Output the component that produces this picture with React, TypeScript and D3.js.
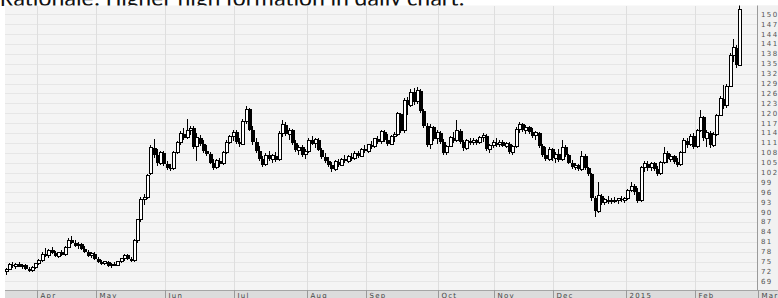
import React, { useEffect, useRef } from 'react';
import * as d3 from 'd3';

// daily candles, [open, high, low, close], one array per month
const mar14 = [
  [72.0, 73.0, 71.0, 72.5], [72.5, 74.5, 72.3, 74.0], [74.0, 74.8, 73.0, 73.5], [73.5, 74.5, 72.8, 74.2],
  [74.2, 75.0, 73.2, 73.4], [73.4, 74.2, 72.6, 73.8], [73.8, 74.4, 72.5, 72.8], [72.8, 73.4, 71.8, 72.2],
  [72.2, 73.5, 71.9, 73.2], [73.2, 74.6, 72.8, 74.3],
];
const apr14 = [
  [74.3, 75.8, 73.8, 75.4], [75.4, 77.8, 75.0, 77.2], [77.2, 79.2, 76.5, 76.8], [76.8, 78.8, 76.2, 78.4],
  [78.4, 79.5, 77.2, 77.6], [77.6, 78.2, 76.3, 76.6], [76.6, 78.0, 76.0, 77.8], [77.8, 78.6, 76.6, 77.0],
  [77.0, 79.6, 76.8, 79.3], [79.3, 82.0, 79.0, 81.4], [81.4, 82.6, 80.2, 80.6], [80.6, 81.5, 79.4, 79.8],
  [79.8, 80.8, 78.8, 80.2], [80.2, 80.6, 78.4, 78.7], [78.7, 79.6, 77.6, 78.0], [78.0, 78.4, 76.4, 76.8],
  [76.8, 77.9, 76.2, 77.4], [77.4, 77.8, 75.6, 75.9],
];
const may14 = [
  [75.9, 76.4, 74.6, 75.0], [75.0, 75.6, 74.0, 74.4], [74.4, 75.3, 73.8, 74.9], [74.9, 75.2, 73.4, 73.7],
  [73.7, 74.6, 73.1, 74.2], [74.2, 75.0, 73.5, 73.9], [73.9, 75.2, 73.6, 75.0], [75.0, 76.2, 74.6, 75.8],
  [75.8, 77.4, 75.3, 76.9], [76.9, 77.3, 75.4, 75.7], [75.7, 76.4, 74.8, 75.2], [75.2, 81.8, 75.0, 81.5],
  [81.5, 88.0, 80.5, 87.6], [87.6, 94.5, 87.0, 93.9], [93.9, 95.5, 92.2, 94.4], [94.4, 101.6, 94.0, 101.2],
  [101.8, 110.5, 101.2, 109.5], [109.5, 112.2, 106.5, 107.2], [107.2, 109.0, 104.0, 104.8], [104.8, 108.5, 104.2, 108.0],
  [108.0, 108.5, 104.0, 104.6],
];
const jun14 = [
  [104.6, 105.4, 102.8, 103.5], [103.5, 104.6, 102.5, 103.2], [103.2, 108.5, 102.8, 108.0], [108.0, 111.5, 107.6, 111.0],
  [111.0, 114.5, 110.5, 113.8], [113.8, 115.5, 112.0, 112.6], [112.6, 118.3, 112.2, 114.8], [114.8, 116.0, 113.5, 115.5],
  [115.5, 116.0, 109.0, 109.8], [109.8, 114.0, 105.5, 112.5], [112.5, 113.5, 110.0, 110.6], [110.6, 111.8, 108.0, 108.6],
  [108.6, 110.4, 107.0, 107.5], [107.5, 108.2, 104.5, 105.0], [105.0, 106.0, 102.8, 103.4], [103.4, 106.2, 103.0, 105.6],
  [105.6, 106.5, 103.8, 104.6], [104.6, 108.4, 104.2, 108.0], [108.0, 111.8, 107.5, 111.2], [111.2, 113.4, 110.6, 112.8],
  [112.8, 115.0, 111.5, 114.2],
];
const jul14 = [
  [114.2, 115.0, 110.8, 111.4], [111.4, 112.5, 109.8, 110.6], [110.6, 118.2, 110.2, 117.6], [117.6, 122.2, 116.8, 121.2],
  [121.2, 121.6, 114.5, 115.0], [115.0, 116.0, 110.5, 111.2], [111.2, 112.5, 108.0, 108.6], [108.6, 110.0, 105.5, 106.2],
  [106.2, 107.0, 103.6, 104.4], [104.4, 107.8, 104.0, 107.2], [107.2, 108.4, 105.5, 106.0], [106.0, 107.6, 105.0, 107.1],
  [107.1, 108.2, 105.3, 105.8], [105.8, 114.5, 105.5, 113.8], [113.8, 118.0, 112.8, 116.5], [116.5, 117.4, 113.0, 113.6],
  [113.6, 115.5, 111.8, 114.8], [114.8, 115.2, 110.5, 111.0], [111.0, 112.0, 108.2, 108.8], [108.8, 110.2, 107.2, 109.6],
  [109.6, 110.4, 106.8, 107.4], [107.4, 109.0, 106.2, 108.5],
];
const aug14 = [
  [108.5, 112.5, 108.0, 111.8], [111.8, 113.0, 110.2, 110.8], [110.8, 112.6, 109.5, 112.0], [112.0, 112.4, 108.4, 108.9],
  [108.9, 109.5, 106.2, 106.8], [106.8, 107.8, 105.0, 105.5], [105.5, 106.6, 103.8, 104.4], [104.4, 105.2, 102.2, 103.0],
  [103.0, 105.8, 102.6, 105.2], [105.2, 106.0, 103.6, 104.2], [104.2, 106.4, 103.9, 106.0], [106.0, 107.2, 104.8, 105.4],
  [105.4, 107.2, 105.0, 106.8], [106.8, 107.8, 105.5, 106.2], [106.2, 108.4, 105.8, 107.8], [107.8, 108.6, 106.5, 107.0],
  [107.0, 109.4, 106.6, 109.0], [109.0, 110.2, 107.8, 108.4],
];
const sep14 = [
  [108.4, 110.8, 108.0, 110.4], [110.4, 111.5, 109.2, 109.8], [109.8, 112.6, 109.4, 112.2], [112.2, 113.2, 110.8, 111.4],
  [111.4, 115.0, 110.8, 114.4], [114.4, 115.0, 111.2, 112.0], [112.0, 113.6, 110.0, 110.6], [110.6, 113.4, 110.2, 112.8],
  [112.8, 114.2, 111.2, 113.6], [113.6, 120.4, 113.2, 119.8], [119.8, 120.2, 114.0, 114.6], [114.6, 124.6, 114.0, 124.0],
  [124.0, 124.8, 119.5, 122.4], [122.4, 127.2, 121.8, 126.4], [126.4, 127.5, 122.6, 123.4], [123.4, 128.0, 122.8, 126.8],
  [126.8, 127.4, 120.0, 120.8], [120.8, 121.4, 115.4, 116.0], [116.0, 117.0, 109.6, 110.4], [110.4, 116.6, 109.2, 115.8],
  [115.8, 116.2, 111.6, 112.2], [112.2, 114.8, 110.8, 114.0],
];
const oct14 = [
  [114.0, 114.5, 110.6, 111.2], [111.2, 112.2, 107.2, 108.0], [108.0, 110.5, 107.4, 110.0], [110.0, 113.2, 109.6, 112.6],
  [112.6, 114.2, 111.0, 111.6], [111.6, 118.0, 111.2, 114.6], [114.6, 115.2, 110.8, 111.4], [111.4, 112.0, 108.4, 109.4],
  [109.4, 112.2, 108.8, 111.6], [111.6, 112.6, 110.2, 111.0], [111.0, 112.4, 110.4, 111.8], [111.8, 112.2, 110.4, 111.0],
  [111.0, 113.2, 110.6, 112.6], [112.6, 114.0, 111.4, 113.2], [113.2, 113.6, 108.4, 109.0], [109.0, 110.8, 108.0, 110.2],
  [110.2, 111.8, 109.4, 111.0],
];
const nov14 = [
  [111.0, 112.4, 109.8, 110.4], [110.4, 111.8, 109.6, 111.2], [111.2, 111.8, 109.6, 110.0], [110.0, 111.4, 109.4, 110.8],
  [110.8, 111.2, 107.6, 108.2], [108.2, 110.4, 107.4, 109.8], [109.8, 115.8, 109.4, 115.2], [115.2, 117.4, 114.0, 116.6],
  [116.6, 117.0, 114.2, 114.8], [114.8, 116.4, 113.6, 115.8], [115.8, 116.2, 113.6, 114.2], [114.2, 115.6, 112.6, 113.2],
  [113.2, 114.6, 111.8, 114.0], [114.0, 114.4, 109.4, 110.0], [110.0, 110.6, 106.8, 107.4], [107.4, 109.8, 105.4, 106.0],
  [106.0, 109.6, 105.6, 109.0], [109.0, 109.4, 105.4, 106.4],
];
const dec14 = [
  [106.4, 108.2, 105.0, 107.6], [107.6, 109.0, 105.2, 105.8], [105.8, 112.0, 105.4, 109.6], [109.6, 110.4, 106.6, 107.2],
  [107.2, 107.6, 104.6, 105.0], [105.0, 105.8, 103.0, 103.6], [103.6, 104.8, 102.8, 104.2], [104.2, 104.6, 102.4, 103.0],
  [103.0, 108.4, 102.6, 107.0], [107.0, 107.6, 102.8, 103.4], [103.4, 103.8, 101.0, 101.6], [101.6, 101.8, 93.4, 94.2],
  [94.2, 95.0, 88.6, 90.2], [90.2, 99.0, 89.8, 95.0], [95.0, 95.6, 92.2, 92.8], [92.8, 94.4, 92.0, 93.8],
  [93.8, 94.8, 92.6, 93.2], [93.2, 94.2, 92.4, 93.6], [93.6, 94.6, 92.8, 93.4], [93.4, 94.4, 92.6, 94.0],
  [94.0, 94.8, 93.0, 93.6], [93.6, 94.6, 92.8, 94.2],
];
const jan15 = [
  [94.2, 97.0, 93.6, 96.6], [96.6, 99.0, 96.0, 97.8], [97.8, 98.6, 95.2, 96.0], [96.0, 97.2, 92.8, 93.4],
  [93.4, 104.0, 93.0, 103.6], [103.6, 105.4, 102.2, 104.6], [104.6, 105.6, 102.6, 103.4], [103.4, 105.2, 102.4, 104.8],
  [104.8, 105.2, 102.4, 103.0], [103.0, 104.0, 100.8, 101.6], [101.6, 105.6, 101.2, 105.0], [105.0, 109.6, 104.6, 107.8],
  [107.8, 108.4, 105.0, 106.0], [106.0, 107.6, 105.2, 107.0], [107.0, 107.4, 104.6, 105.2], [105.2, 106.4, 103.8, 104.4],
  [104.4, 108.6, 104.0, 108.2], [108.2, 112.4, 108.0, 111.6], [111.6, 112.6, 109.4, 110.4], [110.4, 113.6, 110.0, 113.0],
  [113.0, 114.0, 109.2, 109.8],
];
const feb15 = [
  [109.8, 115.2, 109.4, 114.6], [114.6, 121.0, 114.2, 118.8], [118.8, 119.2, 111.6, 112.4], [112.4, 114.8, 109.8, 114.0],
  [114.0, 114.6, 109.4, 110.2], [110.2, 114.4, 109.6, 113.6], [113.6, 119.8, 113.2, 119.4], [119.4, 125.2, 119.0, 124.4],
  [124.4, 128.6, 121.4, 122.2], [122.2, 128.8, 121.6, 128.2], [128.2, 138.4, 127.8, 137.6], [137.6, 142.4, 135.4, 139.8],
  [139.8, 140.6, 133.6, 134.6], [134.6, 156.0, 134.2, 151.6],
];

const monthBars = [mar14, apr14, may14, jun14, jul14, aug14, sep14, oct14, nov14, dec14, jan15, feb15];
// trading sessions per month on the time axis (Mar 2014 starts on the 18th)
const sessions = [10, 18, 21, 21, 22, 18, 22, 17, 18, 22, 21, 19];
const monthLabels = ['', 'Apr', 'May', 'Jun', 'Jul', 'Aug', 'Sep', 'Oct', 'Nov', 'Dec', '2015', 'Feb', 'Mar'];
const priceTicks = d3.range(69, 151, 3);

const title = 'Rationale: Higher high formation in daily chart.';

const W = 778;
const H = 298;

const App = () => {
  const ref = useRef<SVGSVGElement>(null);

  useEffect(() => {
    const svg = d3.select(ref.current);
    svg.selectAll('*').remove();

    const left = 5;
    const top = 5.5;
    const plotRight = 757;
    const plotBottom = 290;

    const candles = monthBars.flat().map((d, i) => ({ i, o: d[0], h: d[1], l: d[2], c: d[3] }));
    const starts = d3.cumsum([0, ...sessions]);
    const total = starts[starts.length - 1];

    const x = d3.scaleLinear().domain([0, total]).range([5.5, 5.5 + total * 3.291]);
    const y = d3.scaleLinear().domain([69, 150]).range([281.3, 14.3]);

    // heading, mostly hidden behind the chart
    svg
      .append('text')
      .attr('x', 0)
      .attr('y', 6)
      .attr('font-family', 'Calibri, Carlito, Lato, sans-serif')
      .attr('font-size', 24.5)
      .attr('fill', '#111')
      .text(title);

    svg
      .append('rect')
      .attr('x', left)
      .attr('y', top)
      .attr('width', W - left)
      .attr('height', H - top)
      .attr('fill', '#f4f4f4');

    svg.append('clipPath').attr('id', 'plot-clip')
      .append('rect')
      .attr('x', left)
      .attr('y', top)
      .attr('width', plotRight - left)
      .attr('height', plotBottom - top);

    const grid = svg.append('g').attr('shape-rendering', 'crispEdges');
    grid
      .selectAll('line.h')
      .data(priceTicks)
      .join('line')
      .attr('class', 'h')
      .attr('x1', left)
      .attr('x2', plotRight)
      .attr('y1', (d) => Math.round(y(d)) + 0.5)
      .attr('y2', (d) => Math.round(y(d)) + 0.5)
      .attr('stroke', '#e6e6e6');

    const monthTicks = monthLabels
      .map((label, k) => ({ label, pos: Math.round(x(starts[k]) - 1.6) + 0.5 }))
      .filter((d) => d.label);

    grid
      .selectAll('line.v')
      .data(monthTicks)
      .join('line')
      .attr('class', 'v')
      .attr('x1', (d) => d.pos)
      .attr('x2', (d) => d.pos)
      .attr('y1', top)
      .attr('y2', plotBottom)
      .attr('stroke', '#dedede');

    // candles
    const g = svg.append('g').attr('clip-path', 'url(#plot-clip)').attr('shape-rendering', 'crispEdges');
    const cx = (d) => Math.round(x(d.i)) + 0.5;

    g.selectAll('line.wick')
      .data(candles)
      .join('line')
      .attr('class', 'wick')
      .attr('x1', cx)
      .attr('x2', cx)
      .attr('y1', (d) => y(d.h))
      .attr('y2', (d) => y(d.l))
      .attr('stroke', '#000');

    g.selectAll('rect.down')
      .data(candles.filter((d) => d.c < d.o))
      .join('rect')
      .attr('class', 'down')
      .attr('x', (d) => cx(d) - 1.5)
      .attr('width', 4)
      .attr('y', (d) => y(d.o))
      .attr('height', (d) => Math.max(1.5, y(d.c) - y(d.o)))
      .attr('fill', '#000');

    g.selectAll('rect.up')
      .data(candles.filter((d) => d.c >= d.o))
      .join('rect')
      .attr('class', 'up')
      .attr('x', (d) => cx(d) - 1)
      .attr('width', 3)
      .attr('y', (d) => y(d.c))
      .attr('height', (d) => Math.max(1, y(d.o) - y(d.c)))
      .attr('fill', '#fff')
      .attr('stroke', '#000');

    // right price axis
    svg
      .append('rect')
      .attr('x', plotRight)
      .attr('y', top)
      .attr('width', W - plotRight)
      .attr('height', plotBottom - top)
      .attr('fill', '#f1f1f1');
    svg
      .append('line')
      .attr('x1', plotRight + 0.5)
      .attr('x2', plotRight + 0.5)
      .attr('y1', top)
      .attr('y2', H)
      .attr('stroke', '#9a9a9a');

    svg
      .append('g')
      .selectAll('text')
      .data(priceTicks)
      .join('text')
      .attr('x', plotRight + 4)
      .attr('y', (d) => y(d))
      .attr('dy', '0.35em')
      .attr('font-family', 'DejaVu Sans, sans-serif')
      .attr('font-size', 7)
      .attr('letter-spacing', 1.4)
      .attr('fill', '#555')
      .text((d) => d);

    // time axis band
    svg
      .append('rect')
      .attr('x', left)
      .attr('y', plotBottom)
      .attr('width', W - left)
      .attr('height', H - plotBottom)
      .attr('fill', '#dcdcdc');
    svg
      .append('line')
      .attr('x1', left)
      .attr('x2', W)
      .attr('y1', plotBottom + 0.5)
      .attr('y2', plotBottom + 0.5)
      .attr('stroke', '#a5a5a5');

    const axis = svg.append('g').attr('shape-rendering', 'crispEdges');
    axis
      .selectAll('line')
      .data(monthTicks)
      .join('line')
      .attr('x1', (d) => d.pos)
      .attr('x2', (d) => d.pos)
      .attr('y1', plotBottom)
      .attr('y2', H)
      .attr('stroke', '#999');
    axis
      .selectAll('text')
      .data(monthTicks)
      .join('text')
      .attr('x', (d) => d.pos + 3)
      .attr('y', H - 0.5)
      .attr('font-family', 'DejaVu Sans, sans-serif')
      .attr('font-size', 7)
      .attr('letter-spacing', 1.2)
      .attr('fill', '#444')
      .attr('shape-rendering', 'auto')
      .text((d) => d.label);
  }, []);

  return (
    <div style={{ position: 'absolute', left: 0, top: 0 }}>
      <svg ref={ref} width={W} height={H} style={{ display: 'block' }}></svg>
    </div>
  );
};

export default App;
